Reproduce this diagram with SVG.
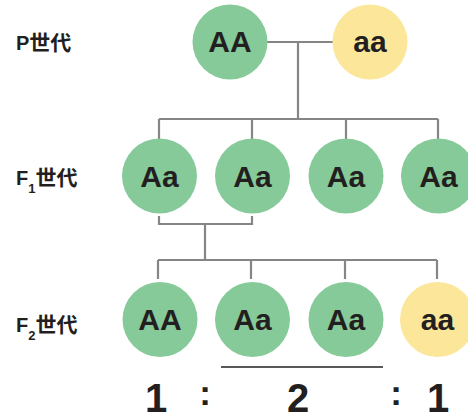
<svg xmlns="http://www.w3.org/2000/svg" width="468" height="412" viewBox="0 0 468 412">
<style>
.g{fill:#85CA98}
.y{fill:#FCE69A}
.t{font-family:"Liberation Sans","Noto Sans CJK SC",sans-serif;font-weight:bold;font-size:30px;fill:#231F20;text-anchor:middle}
.l{font-family:"Liberation Sans","Noto Sans CJK SC",sans-serif;font-weight:bold;font-size:20px;fill:#231F20}
.k{font-size:21px}
.s{font-size:13px}
.r{font-family:"Liberation Sans",sans-serif;font-weight:bold;font-size:40px;fill:#231F20;text-anchor:middle}
.o{font-size:35px}
.c{fill:none;stroke:#858585;stroke-width:2.2}
</style>
<rect width="468" height="412" fill="#fff"/>
<g id="connectors" class="c">
<path d="M267 42H333M298 42V119M159 119H438M159 119V139M252 119V139M346 119V139M438 119V139"/>
<path d="M159 216V224H252V216M205 224V260M158 260H437M158 260V279M251 260V279M345 260V279M437 260V279"/>
<path d="M221 367H383" stroke="#231F20" stroke-width="1.3"/>
</g>
<g id="labels">
<text class="l" x="16" y="50">P<tspan class="k">世代</tspan></text>
<text class="l" x="16" y="185">F<tspan class="s" dy="8">1</tspan><tspan class="k" dy="-8">世代</tspan></text>
<text class="l" x="16" y="332">F<tspan class="s" dy="8">2</tspan><tspan class="k" dy="-8">世代</tspan></text>
</g>
<g id="p-AA"><circle class="g" cx="230" cy="42" r="37.5"/><text class="t" x="230" y="52">AA</text></g>
<g id="p-aa"><circle class="y" cx="370" cy="42" r="37.5"/><text class="t" x="370" y="52">aa</text></g>
<g id="f1-1"><circle class="g" cx="159.5" cy="176" r="37.5"/><text class="t" x="159.5" y="186.5">Aa</text></g>
<g id="f1-2"><circle class="g" cx="252.5" cy="176" r="37.5"/><text class="t" x="252.5" y="186.5">Aa</text></g>
<g id="f1-3"><circle class="g" cx="346" cy="176" r="37.5"/><text class="t" x="346" y="186.5">Aa</text></g>
<g id="f1-4"><circle class="g" cx="438.5" cy="176" r="37.5"/><text class="t" x="438.5" y="186.5">Aa</text></g>
<g id="f2-1"><circle class="g" cx="160" cy="319.5" r="37.5"/><text class="t" x="160" y="330">AA</text></g>
<g id="f2-2"><circle class="g" cx="252.5" cy="319.5" r="37.5"/><text class="t" x="252.5" y="330">Aa</text></g>
<g id="f2-3"><circle class="g" cx="346" cy="319.5" r="37.5"/><text class="t" x="346" y="330">Aa</text></g>
<g id="f2-4"><circle class="y" cx="437.5" cy="319.5" r="37.5"/><text class="t" x="437.5" y="330">aa</text></g>
<g id="ratio">
<text class="r" x="156" y="412">1</text>
<text class="r o" x="205" y="405">:</text>
<text class="r" x="298" y="412">2</text>
<text class="r o" x="396" y="405">:</text>
<text class="r" x="438" y="412">1</text>
</g>
</svg>
